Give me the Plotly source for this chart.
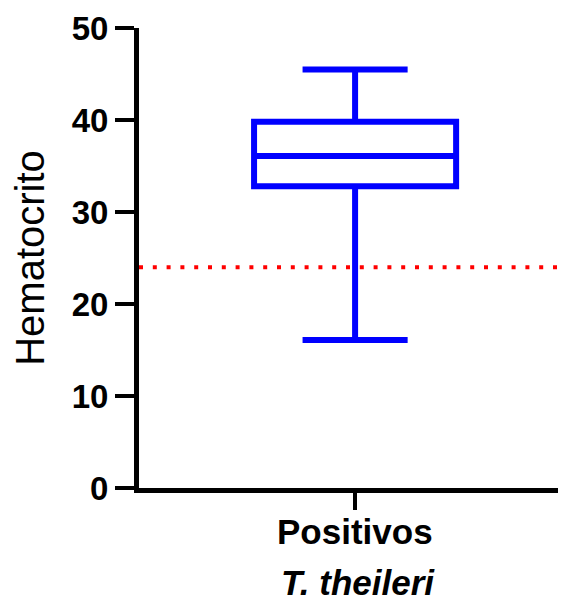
import plotly.graph_objects as go

# Data
group_labels = ["Positivos"]
q1_vals = [32.8]
median_vals = [36.1]
q3_vals = [39.8]
min_vals = [16.1]
max_vals = [45.5]
reference_line = 24.0
y_ticks = [0, 10, 20, 30, 40, 50]
group_title = "T. theileri"

FONT = "Arial, Liberation Sans, sans-serif"

fig = go.Figure()
fig.add_trace(go.Box(
    x=[0],
    q1=q1_vals, median=median_vals, q3=q3_vals,
    lowerfence=min_vals, upperfence=max_vals,
    width=0.935,
    whiskerwidth=0.52,
    line=dict(color="#0000FF", width=6),
    fillcolor="rgba(255,255,255,0)",
    boxpoints=False,
    showlegend=False,
    hoverinfo="skip",
))

fig.add_shape(
    type="line", xref="paper", yref="y",
    x0=0, x1=1, y0=reference_line, y1=reference_line,
    line=dict(color="#FF0000", width=4, dash="4px,9.8px"),
    layer="above",
)

# category label and group title under the x axis
fig.add_annotation(
    x=0, xref="x", y=0, yref="paper", yanchor="top", xanchor="center",
    yshift=-22, showarrow=False,
    text="<b>" + group_labels[0] + "</b>",
    font=dict(size=35, family=FONT, color="black"),
)
fig.add_annotation(
    x=0, xref="x", y=0, yref="paper", yanchor="top", xanchor="center",
    yshift=-73, xshift=3, showarrow=False,
    text="<b><i>" + group_title + "</i></b>",
    font=dict(size=35, family=FONT, color="black"),
)

fig.update_layout(
    width=558, height=598,
    margin=dict(l=131, r=0, t=20, b=118),
    plot_bgcolor="white", paper_bgcolor="white",
    font=dict(family=FONT, color="black"),
    showlegend=False,
)

fig.update_xaxes(
    range=[-1.0, 0.976],
    tickmode="array", tickvals=[0], ticktext=[""],
    ticks="outside", ticklen=17, tickwidth=4, tickcolor="black",
    showline=True, linecolor="black", linewidth=5,
    showgrid=False, zeroline=False,
)
fig.update_yaxes(
    range=[0, 50],
    tickmode="array", tickvals=y_ticks, ticktext=["<b>%d</b>" % v for v in y_ticks],
    tickfont=dict(size=33, family=FONT, color="black"),
    ticks="outside", ticklen=19, tickwidth=4, tickcolor="black",
    showline=True, linecolor="black", linewidth=5,
    showgrid=False, zeroline=False,
    title=dict(text="Hematocrito", font=dict(size=40, family=FONT, color="black"), standoff=28),
)

fig.write_html("out.html")
